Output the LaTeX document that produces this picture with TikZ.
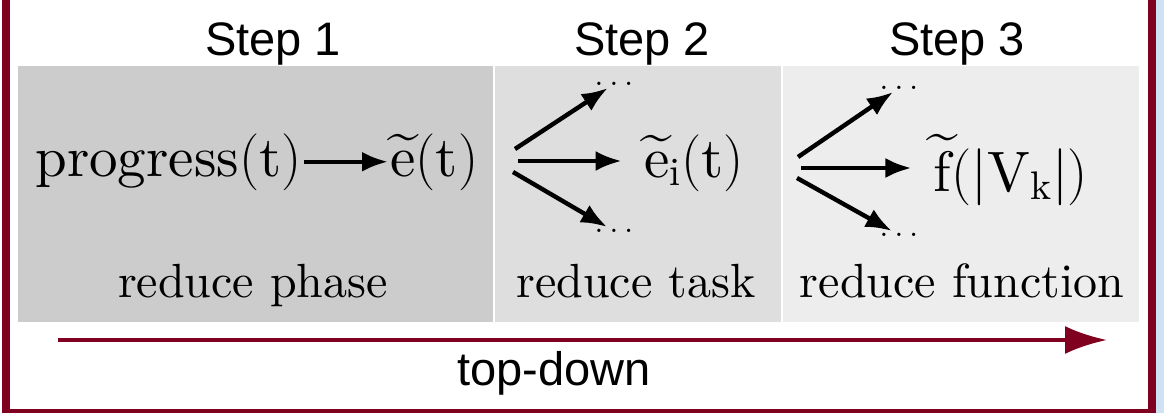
\RequirePackage{fix-cm}
\documentclass[tikz,border=0pt]{standalone}
\usepackage{amsmath,amssymb}
\usepackage{fontspec}
\setmainfont{lmroman10-regular.otf}
\newfontfamily\headfont{Liberation Sans}
\usepackage{tikz}
\usetikzlibrary{arrows.meta}

\definecolor{framered}{RGB}{128,0,32}
\definecolor{phasegray}{RGB}{204,204,204}
\definecolor{taskgray}{RGB}{222,222,222}
\definecolor{funcgray}{RGB}{237,237,237}
\definecolor{sideblue}{RGB}{207,226,243}

\tikzset{
  head/.style={font=\headfont\fontsize{23.5}{28}\selectfont, inner sep=0pt, anchor=base},
  label/.style={font=\fontsize{24}{28}\selectfont, inner sep=0pt, anchor=base},
  formula/.style={font=\fontsize{28.5}{34}\selectfont, inner sep=1pt, anchor=base},
  more/.style={font=\fontsize{17}{20}\selectfont, inner sep=1pt},
  fan/.style={line width=2.2pt, -{Latex[length=13pt,width=10pt]}},
}

\begin{document}
\begin{tikzpicture}[x=0.5pt, y=-0.5pt]
  \useasboundingbox (0,0) rectangle (1164,413);
  \fill[white] (0,0) rectangle (1164,413);
  \fill[sideblue] (1156,0) rectangle (1164,413);
  \draw[framered, line width=4pt] (5.5,-20) -- (5.5,413) -- (1152,413) -- (1152,-20);

  % the three steps
  \fill[phasegray] (18,66) rectangle (493,322);
  \fill[taskgray] (495,66) rectangle (781,322);
  \fill[funcgray] (783,66) rectangle (1139,322);

  \node[head] (S1) at (273,55) {Step 1};
  \node[head] (S2) at (642,55) {Step 2};
  \node[head] (S3) at (957,55) {Step 3};

  % step 1
  \node[formula, anchor=base east] (P) at (304,176) {$\mathrm{progress(t)}$};
  \node[formula, anchor=base west] (E) at (388,176) {$\widetilde{\mathrm{e}}(\mathrm{t})$};
  \draw[fan] (P.east) -- (P.east -| E.west);
  \node[label] (L1) at (253,297) {reduce phase};

  % step 2
  \coordinate (A2) at (515,149);
  \coordinate (B2) at (518,161);
  \coordinate (C2) at (513,172);
  \node[more] (U2) at (614,84) {$\ldots$};
  \node[more] (D2) at (614,231) {$\ldots$};
  \node[formula] (Ei) at (694,177) {$\widetilde{\mathrm{e}}_{\mathrm{i}}(\mathrm{t})$};
  \draw[fan] (A2) -- (U2);
  \draw[fan] (B2) -- (B2 -| Ei.west) [shorten >=10pt];
  \draw[fan] (C2) -- (D2);
  \node[label] (L2) at (636,297) {reduce task};

  % step 3
  \coordinate (A3) at (798,157);
  \coordinate (B3) at (801,168);
  \coordinate (C3) at (797,178);
  \node[more] (U3) at (899,88) {$\ldots$};
  \node[more] (D3) at (899,235) {$\ldots$};
  \node[formula] (F) at (1011,191) {$\widetilde{\mathrm{f}}(|\mathrm{V}_{\mathrm{k}}|)$};
  \draw[fan] (A3) -- (U3);
  \draw[fan] (B3) -- (B3 -| F.west) [shorten >=10pt];
  \draw[fan] (C3) -- (D3);
  \node[label] (L3) at (962,297) {reduce function};

  % direction
  \coordinate (T0) at (58,340);
  \coordinate (T1) at (1107,340);
  \draw[framered, line width=2pt, -{Latex[length=21pt,width=14pt]}] (T0) -- (T1);
  \node[head] (TD) at (554,385) {top-down};
\end{tikzpicture}
\end{document}
